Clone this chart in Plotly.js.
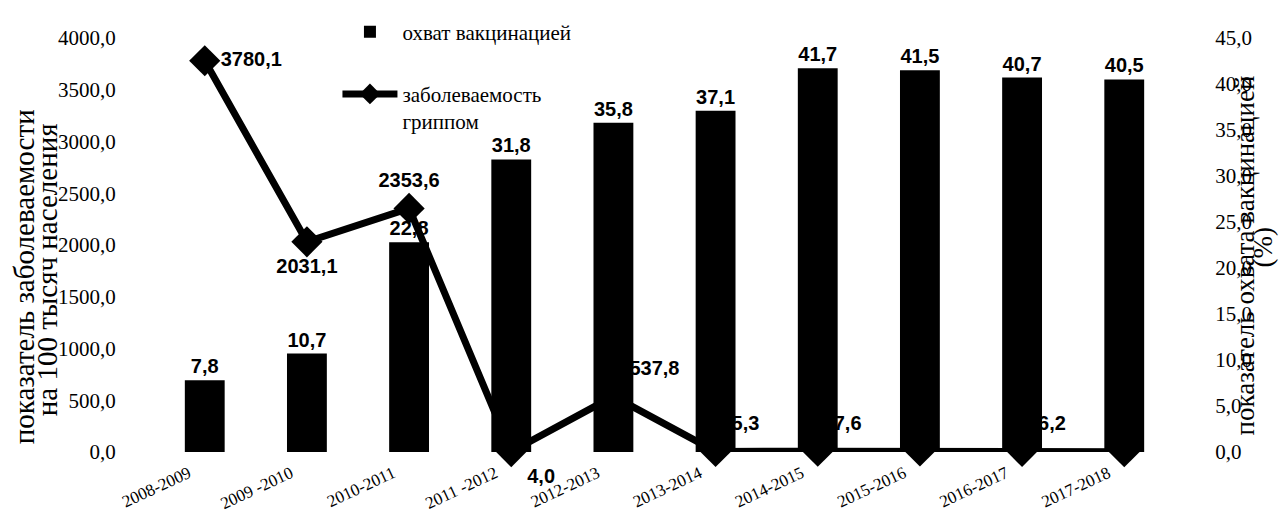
<!DOCTYPE html>
<html>
<head>
<meta charset="utf-8">
<script src="https://cdn.plot.ly/plotly-3.0.1.min.js"></script>
<style>html,body{margin:0;padding:0;background:#fff;}#chart{width:1284px;height:513px;}</style>
</head>
<body>
<div id="chart"></div>
<script>
const seasons = ["2008-2009", "2009 -2010", "2010-2011", "2011 -2012", "2012-2013", "2013-2014", "2014-2015", "2015-2016", "2016-2017", "2017-2018"];
const coverage = [7.8, 10.7, 22.8, 31.8, 35.8, 37.1, 41.7, 41.5, 40.7, 40.5];
const incidence = [3780.1, 2031.1, 2353.6, 4.0, 537.8, 5.3, 7.6, 9.5, 6.2, 3.1];
const incidenceLabelPos = ["middle right", "bottom center", "top center", "bottom right", "top right", "top right", "top right", "top center", "top right", "top center"];

const serif = "Liberation Serif, Times New Roman, serif";
const sans = "Liberation Sans, Arial, sans-serif";

const data = [
  {
    type: "bar",
    name: "охват вакцинацией",
    x: seasons,
    y: coverage,
    yaxis: "y2",
    zorder: 5,
    marker: {color: "#000"},
    texttemplate: "<b>%{y:.1f}</b>",
    textposition: "outside",
    textfont: {family: sans, size: 20, color: "#000"},
    cliponaxis: false,
    legendgroup: "a"
  },
  {
    type: "scatter",
    mode: "lines+markers+text",
    name: "заболеваемость<br>гриппом",
    x: seasons,
    y: incidence,
    yaxis: "y",
    zorder: 1,
    line: {color: "#000", width: 7},
    marker: {symbol: "diamond", size: 24, color: "#000"},
    text: incidence.map(v => "<b>" + v.toFixed(1).replace(".", ",") + "</b>"),
    textposition: incidenceLabelPos,
    textfont: {family: sans, size: 20, color: "#000"},
    cliponaxis: false,
    legendgroup: "b"
  }
];

const layout = {
  width: 1284, height: 513,
  margin: {l: 137, r: 92, t: 26, b: 61},
  paper_bgcolor: "#fff", plot_bgcolor: "#fff",
  separators: ", ",
  showlegend: true,
  bargap: 0.61,
  legend: {
    x: 0.19, y: 1.064, xanchor: "left", yanchor: "top",
    font: {family: serif, size: 21, color: "#000"},
    traceorder: "grouped", tracegroupgap: 32, valign: "top",
    itemwidth: 55,
    bgcolor: "rgba(0,0,0,0)"
  },
  xaxis: {
    type: "category",
    tickangle: -25,
    tickfont: {family: serif, size: 17, color: "#000"},
    showline: true, linecolor: "#aaa", linewidth: 1,
    ticks: "", showgrid: false,
    ticklabelshift: -16, ticklabelstandoff: 4
  },
  yaxis: {
    side: "left",
    range: [0, 4000], dtick: 500, tickformat: ".1f",
    tickfont: {family: serif, size: 21, color: "#000"},
    showline: true, linecolor: "#aaa", linewidth: 1,
    showgrid: false, zeroline: false, ticks: "", ticklabelstandoff: 16
  },
  yaxis2: {
    overlaying: "y", side: "right",
    range: [0, 45], dtick: 5, tickformat: ".1f",
    tickfont: {family: serif, size: 21, color: "#000"},
    showline: true, linecolor: "#aaa", linewidth: 1,
    showgrid: false, zeroline: false, ticks: "", ticklabelstandoff: 18
  },
  annotations: [
    {text: "показатель заболеваемости", textangle: -90,
     xref: "paper", yref: "paper", x: -0.107, y: 0.4225, xanchor: "center", yanchor: "middle", showarrow: false,
     font: {family: serif, size: 29, color: "#000"}},
    {text: "на 100 тысяч населения", textangle: -90,
     xref: "paper", yref: "paper", x: -0.0853, y: 0.439, xanchor: "center", yanchor: "middle", showarrow: false,
     font: {family: serif, size: 29, color: "#000"}},
    {text: "показатель охвата вакцинацией", textangle: -90,
     xref: "paper", yref: "paper", x: 1.05, y: 0.474, xanchor: "center", yanchor: "middle", showarrow: false,
     font: {family: serif, size: 27, color: "#000"}},
    {text: "(%)", textangle: -90,
     xref: "paper", yref: "paper", x: 1.067, y: 0.493, xanchor: "center", yanchor: "middle", showarrow: false,
     font: {family: serif, size: 27, color: "#000"}}
  ]
};

Plotly.newPlot("chart", data, layout, {displayModeBar: false, responsive: false});
</script>
</body>
</html>
